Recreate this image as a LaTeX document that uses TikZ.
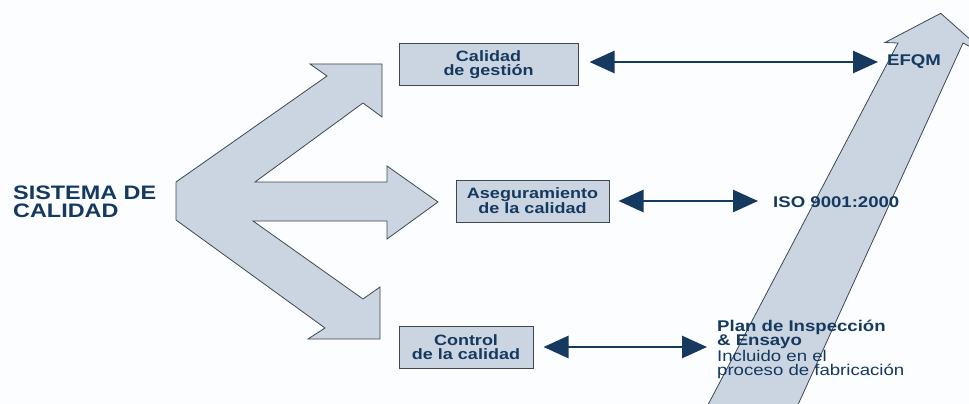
\documentclass[tikz,border=0pt]{standalone}
\usepackage{fontspec}
\setmainfont{Liberation Sans}[FakeStretch=1.2]
\usetikzlibrary{arrows.meta}
\definecolor{navy}{HTML}{15395F}
\definecolor{paleblue}{HTML}{CAD5E1}
\definecolor{edgegray}{HTML}{3E4853}
\definecolor{bgwhite}{HTML}{FCFDFE}
\newcommand{\tip}{Triangle[length=25pt,width=22pt]}

\begin{document}
\begin{tikzpicture}[x=1pt,y=-1pt,
    box/.style={draw=edgegray,fill=paleblue,line width=1pt,minimum width=#1,minimum height=42pt,
      inner sep=0pt,align=center,text=navy,font=\bfseries\fontsize{15}{14}\selectfont},
    lbl/.style={text=navy,inner sep=0pt,anchor=west,font=\bfseries\fontsize{15.5}{14.2}\selectfont},
    link/.style={draw=navy,fill=navy,line width=2.8pt,\tip-\tip},
    band/.style={fill=paleblue,draw=edgegray,line width=0.8pt,line join=miter}]
      \useasboundingbox (0,0) rectangle (969,404);
      \fill[bgwhite] (0,0) rectangle (969,404);
      \clip (0,0) rectangle (969,404);

      \draw[band] (176,182) -- (327,76) -- (310,64) -- (382,64) -- (382,117) -- (363,103)
        -- (255,182) -- (387,182) -- (387,166) -- (438,202) -- (387,239) -- (387,221)
        -- (253,221) -- (363,299) -- (380,287) -- (380,339) -- (308,339) -- (325,328)
        -- (176,220) -- cycle;
      \draw[band] (700,420) -- (898,43) -- (885,42.5) -- (940.7,13.3) -- (990,57)
        -- (963,43) -- (791,420) -- cycle;

      \node[lbl,align=left,font=\bfseries\fontsize{19.5}{18}\selectfont] (0) at (13,202) {SISTEMA DE\\CALIDAD};
      \node[box=179pt] (1) at (488.5,64.5) {Calidad\\de gestión};
      \node[box=153pt] (2) at (532.5,201) {Aseguramiento\\de la calidad};
      \node[box=134pt] (3) at (466,347) {Control\\de la calidad};
      \node[lbl] (4) at (887,62) {EFQM};
      \node[lbl] (5) at (773,202) {ISO 9001:2000};
      \node[lbl,align=left] (6) at (717,349.5) {Plan de Inspección\\\& Ensayo\\{\mdseries Incluido en el}\\{\mdseries proceso de fabricación}};

      \draw[link,shorten <=11pt,shorten >=9pt] (1.east |- 4.west) -- (4.west);
      \draw[link,shorten <=9pt,shorten >=15pt] (2.east) -- (2.east -| 5.west);
      \draw[link,shorten <=10pt,shorten >=10pt] (3.east) -- (3.east -| 6.west);
    \end{tikzpicture}
\end{document}
